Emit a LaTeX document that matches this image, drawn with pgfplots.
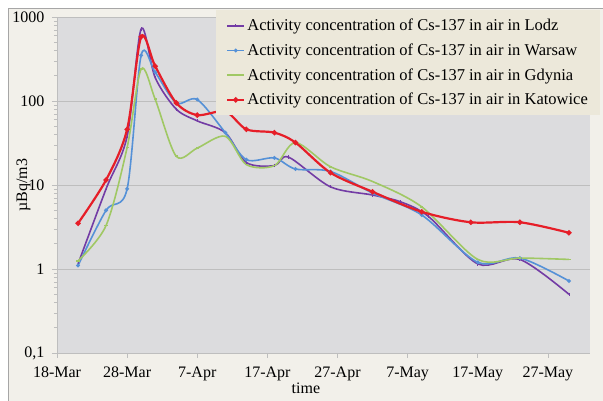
\documentclass[border=0pt]{standalone}
\usepackage{fontspec}
\setmainfont{Liberation Serif}
\usepackage{pgfplots}
\pgfplotsset{compat=1.18}

\definecolor{lodz}{RGB}{115,60,165}
\definecolor{warsaw}{RGB}{85,145,215}
\definecolor{gdynia}{RGB}{160,200,100}
\definecolor{katowice}{RGB}{230,30,40}
\definecolor{plotbg}{RGB}{220,220,222}
\definecolor{outerbg}{RGB}{242,240,234}
\definecolor{legbg}{RGB}{236,232,218}
\definecolor{gridc}{RGB}{190,190,190}

\begin{document}
\begin{tikzpicture}[x=1pt,y=1pt]
\path[use as bounding box] (0,0) rectangle (603,401);
\fill[outerbg] (8,0) rectangle (603,393);
\draw[gray!70,line width=0.8pt] (8,0) -- (8,393) -- (603,393);

\begin{axis}[
    at={(57pt,48pt)}, anchor=south west,
    scale only axis, width=533pt, height=336pt,
    ymode=log, ymin=0.1, ymax=1000,
    xmin=0, xmax=76,
    axis background/.style={fill=plotbg},
    axis x line*=bottom, axis y line*=left,
    axis line style={gridc, line width=0.8pt},
    tick align=outside,
    major tick length=5pt, minor tick length=3pt,
    tick style={gridc, line width=0.6pt},
    xtick={0,10,20,30,40,50,60,70},
    xticklabels={18-Mar,28-Mar,7-Apr,17-Apr,27-Apr,7-May,17-May,27-May},
    ytick={0.1,1,10,100,1000},
    yticklabels={{0,1},1,10,100,1000},
    minor ytick={0.2,0.3,0.4,0.5,0.6,0.7,0.8,0.9,
                 2,3,4,5,6,7,8,9,
                 20,30,40,50,60,70,80,90,
                 200,300,400,500,600,700,800,900},
    ymajorgrids, major grid style={gridc, line width=0.8pt},
    ticklabel style={font=\fontsize{16}{18}\selectfont},
    xticklabel style={yshift=-5pt},
    yticklabel style={xshift=-4pt},
    xlabel={time}, ylabel={µBq/m3},
    label style={font=\fontsize{16}{18}\selectfont},
    xlabel style={at={(axis description cs:0.467,0)}, anchor=north, yshift=-26pt},
    ylabel style={at={(axis description cs:0,0.5)}, yshift=23pt},
    legend cell align=left,
    legend style={at={(axis description cs:1.0188,1.0208)}, anchor=north east,
        fill=legbg, draw=none, inner xsep=10pt, inner ysep=7pt,
        row sep=7.6pt,
        font=\fontsize{16.5}{18}\selectfont},
    every axis plot/.append style={smooth, tension=0.5},
]
\addplot[lodz, line width=1.6pt, mark=|, mark size=1.6pt, mark options={line width=0.8pt}] coordinates {
(3,1.15) (7,9) (10,38) (12,720) (14,190) (17,80) (20,58) (24,42) (27,18.5) (31,17) (33,21.5) (39,9.5) (45,7.6) (49,6.3) (53,4.2) (60,1.15) (66,1.3) (73,0.5)};
\addlegendentry{Activity concentration of Cs-137 in air in Lodz}

\addplot[warsaw, line width=1.6pt, mark=*, mark size=1pt] coordinates {
(3,1.1) (7,5) (10,9) (12,350) (14,220) (17,95) (20,104) (24,42) (27,20) (31,21) (34,15.5) (39,14.5) (45,8) (52,4.4) (60,1.2) (66,1.35) (73,0.72)};
\addlegendentry{Activity concentration of Cs-137 in air in Warsaw}

\addplot[gdynia, line width=1.6pt, mark=-, mark size=1.6pt] coordinates {
(3,1.25) (7,3.3) (10,28) (12,240) (14,105) (17,22) (20,27.5) (24,38) (27,17.5) (31,17) (34,32) (39,16.5) (45,11) (52,5.5) (60,1.3) (66,1.35) (73,1.3)};
\addlegendentry{Activity concentration of Cs-137 in air in Gdynia}

\addplot[katowice, line width=2.2pt, mark=*, mark size=1.4pt] coordinates {
(3,3.5) (7,11.5) (10,46) (12,580) (14,260) (17,95) (20,68) (24,75) (27,46) (31,42) (34,32) (39,14) (45,8.3) (52,4.8) (59,3.6) (66,3.6) (73,2.7)};
\addlegendentry{Activity concentration of Cs-137 in air in Katowice}
\end{axis}
\end{tikzpicture}
\end{document}
